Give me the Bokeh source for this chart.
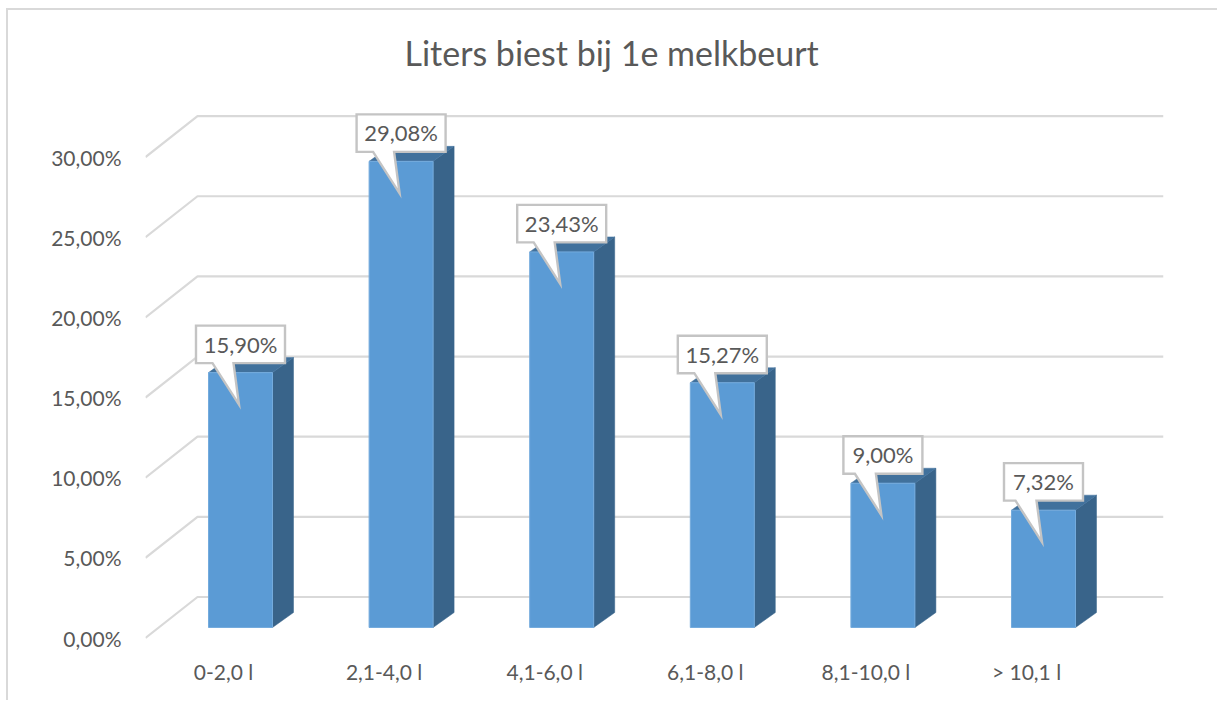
from bokeh.plotting import figure
from bokeh.embed import file_html
from bokeh.resources import INLINE
from bokeh.models import Range1d, FixedTicker, InlineStyleSheet
from bokeh.core.properties import value

title_text = "Liters biest bij 1e melkbeurt"
categories = ["0-2,0 l", "2,1-4,0 l", "4,1-6,0 l", "6,1-8,0 l", "8,1-10,0 l", "> 10,1 l"]
values = [15.90, 29.08, 23.43, 15.27, 9.00, 7.32]
y_ticks = [0, 5, 10, 15, 20, 25, 30]

FONT = "Lato"
GREY = "#595959"
GRID = "#D9D9D9"

# scale: pixels per unit on each axis
PX_X = 160.6
PX_Y = 16.03
FRAME_L, FRAME_R, FRAME_T, FRAME_B = 145, 1163, 77, 650
X0_PX, Y0_PX = 223.0, 637.5


def dx(px):
    return px / PX_X


def dy(px):
    return px / PX_Y


# outer chart frame: only its left and top edges are in view
frame_css = InlineStyleSheet(css="""
:host::after {
  content: ""; position: absolute; left: 6px; top: 8px; right: 0; bottom: 2px;
  border-left: 2.5px solid #D9D9D9; border-top: 2.5px solid #D9D9D9;
  pointer-events: none;
}
""")

p = figure(
    width=1217, height=702, output_backend="svg", toolbar_location=None,
    x_range=Range1d((FRAME_L - X0_PX) / PX_X, (FRAME_R - X0_PX) / PX_X),
    y_range=Range1d((Y0_PX - FRAME_B) / PX_Y, (Y0_PX - FRAME_T) / PX_Y),
    min_border_left=FRAME_L, min_border_right=1217 - FRAME_R,
    min_border_top=FRAME_T, min_border_bottom=702 - FRAME_B,
    outline_line_color=None, background_fill_color="white",
    border_fill_color="white", title=title_text, stylesheets=[frame_css],
)
p.title.align = "left"
p.title.text_font = FONT
p.title.text_font_size = "34px"
p.title.text_font_style = "normal"
p.title.text_color = GREY
p.title.offset = 259
p.xgrid.visible = False
p.ygrid.visible = False

p.yaxis.ticker = FixedTicker(ticks=y_ticks)
p.yaxis.major_label_overrides = {t: f"{t},00%" for t in y_ticks}
p.xaxis.ticker = FixedTicker(ticks=list(range(len(categories))))
p.xaxis.major_label_overrides = {i: c for i, c in enumerate(categories)}
for ax in (p.xaxis[0], p.yaxis[0]):
    ax.axis_line_color = None
    ax.major_tick_line_color = None
    ax.minor_tick_line_color = None
    ax.major_label_text_font = FONT
    ax.major_label_text_font_size = "21px"
    ax.major_label_text_color = GREY
p.yaxis[0].major_label_standoff = 18
p.xaxis[0].major_label_standoff = 2

# wall and side grid
wall_dx, wall_dy = dx(52), dy(41)
x_left = (FRAME_L - X0_PX) / PX_X
x_right = (FRAME_R - X0_PX) / PX_X
p.multi_line(
    xs=[[x_left, x_left + wall_dx, x_right] for _ in y_ticks],
    ys=[[t, t + wall_dy, t + wall_dy] for t in y_ticks],
    line_color=GRID, line_width=2.2,
)

# 3D bars
bw = dx(64)
off = dx(17)
base = dy(10.5)
ddx, ddy = dx(21), dy(15)
lefts = [i + off - bw / 2 for i in range(len(values))]
rights = [l + bw for l in lefts]
tops = [base + v for v in values]

p.patches(
    xs=[[r, r + ddx, r + ddx, r] for r in rights],
    ys=[[base, base + ddy, t + ddy, t] for t in tops],
    fill_color="#39648A", line_color="#39648A", line_width=0.5,
)
p.patches(
    xs=[[l, l + ddx, r + ddx, r] for l, r in zip(lefts, rights)],
    ys=[[t, t + ddy, t + ddy, t] for t in tops],
    fill_color="#41719C", line_color="#41719C", line_width=0.5,
)
p.quad(left=lefts, right=rights, bottom=base, top=tops,
       fill_color="#5B9BD5", line_color="#74ABDD", line_width=1)

# callouts
xs_c, ys_c, tx, ty, labels = [], [], [], [], []
for i, (v, t) in enumerate(zip(values, tops)):
    c = i + off
    hw = dx(44.5 if v >= 10 else 39.5)
    box_t, box_b = t + dy(47), t + dy(9.5)
    xs_c.append([c - hw, c + hw, c + hw, c - dx(7), c - dx(1.5), c - dx(28), c - hw])
    ys_c.append([box_t, box_t, box_b, box_b, t - dy(32), box_b, box_b])
    tx.append(c)
    ty.append(t + dy(28.5))
    labels.append(f"{v:.2f}%".replace(".", ","))
p.patches(xs=xs_c, ys=ys_c, fill_color="white", line_color="#C4C4C4", line_width=2.4,
          line_join="miter")
p.text(x=tx, y=ty, text=labels, text_font=value(FONT), text_font_size="22px",
       text_color=GREY, text_align="center", text_baseline="middle")

open("out.html", "w").write(file_html(p, INLINE))
